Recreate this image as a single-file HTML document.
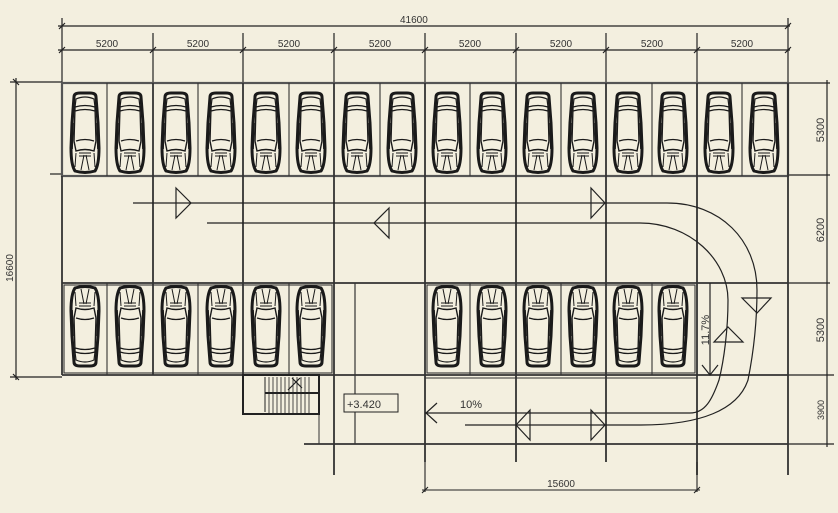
<!DOCTYPE html>
<html><head><meta charset="utf-8"><style>
html,body{margin:0;padding:0;background:#f3efdf;}
svg{display:block;}
text{font-family:"Liberation Sans",sans-serif;fill:#333;}
</style></head><body>
<svg width="838" height="513" viewBox="0 0 838 513" xmlns="http://www.w3.org/2000/svg">
<defs>
<g id="car" fill="none" stroke="#1a1a1a">
 <path d="M4,4 Q4,0 10,0 H20 Q26,0 26,4 L28,30 L29,55 Q29,72 25,78 Q15,81 5,78 Q1,72 1,55 L2,30 Z" stroke-width="3"/>
 <path d="M6,6 Q15,2 24,6 L25,14 Q15,11 5,14 Z" stroke-width="1.2"/>
 <path d="M5,14 L4,48 M25,14 L26,48" stroke-width="1.4"/>
 <path d="M5,18 Q15,15 25,18 M6,48 Q15,45 24,48" stroke-width="1.2"/>
 <path d="M4,48 L6,58 Q15,55 24,58 L26,48" stroke-width="1.4"/>
 <path d="M0,50 L3,50 M27,50 L30,50" stroke-width="1.8"/>
 <path d="M6,60 L5,74 M24,60 L25,74 M9,60 H21 M9,63 H21 M11,77 L14,62 M19,77 L16,62" stroke-width="1"/>
 <path d="M3,30 L2,56 M27,30 L28,56" stroke-width="1.8"/>
</g>
</defs>

<!-- top dimensions -->
<g stroke="#222" stroke-width="1.2" fill="none">
 <line x1="58" y1="26" x2="790" y2="26"/>
 <line x1="58" y1="50" x2="790" y2="50"/>
 <line x1="62" y1="18" x2="62" y2="83"/>
 <line x1="153" y1="33" x2="153" y2="83"/>
 <line x1="243" y1="33" x2="243" y2="83"/>
 <line x1="334" y1="33" x2="334" y2="83"/>
 <line x1="425" y1="33" x2="425" y2="83"/>
 <line x1="516" y1="33" x2="516" y2="83"/>
 <line x1="606" y1="33" x2="606" y2="83"/>
 <line x1="697" y1="33" x2="697" y2="83"/>
 <line x1="788" y1="18" x2="788" y2="83"/>
 <path d="M59,29 L65,23 M59,53 L65,47 M150,53 L156,47 M240,53 L246,47 M331,53 L337,47 M422,53 L428,47 M513,53 L519,47 M603,53 L609,47 M694,53 L700,47 M785,53 L791,47 M785,29 L791,23"/>
</g>
<text x="400" y="23" font-size="10" fill="#555">41600</text>
<g font-size="10" text-anchor="middle" fill="#555">
 <text x="107" y="47" fill="#222">5200</text><text x="198" y="47">5200</text><text x="289" y="47">5200</text><text x="380" y="47">5200</text>
 <text x="470" y="47">5200</text><text x="561" y="47">5200</text><text x="652" y="47">5200</text><text x="742" y="47">5200</text>
</g>

<!-- left dimension -->
<g stroke="#222" stroke-width="1.2" fill="none">
 <line x1="10" y1="82" x2="62" y2="82"/>
 <line x1="50" y1="174" x2="62" y2="174"/>
 <line x1="10" y1="377" x2="62" y2="377"/>
 <line x1="16" y1="78" x2="16" y2="380"/>
 <path d="M13,79 L19,85 M13,374 L19,380"/>
</g>
<text transform="translate(13,268) rotate(-90)" font-size="10" fill="#555" text-anchor="middle">16600</text>

<!-- right dimension -->
<g stroke="#222" stroke-width="1.2" fill="none">
 <line x1="788" y1="83" x2="830" y2="83"/>
 <line x1="788" y1="175" x2="830" y2="175"/>
 <line x1="788" y1="283" x2="830" y2="283"/>
 <line x1="788" y1="375" x2="834" y2="375"/>
 <line x1="788" y1="444" x2="834" y2="444"/>
 <line x1="827" y1="80" x2="827" y2="447"/>
</g>
<g font-size="11" fill="#555" text-anchor="middle">
 <text transform="translate(824,130) rotate(-90)">5300</text>
 <text transform="translate(824,230) rotate(-90)">6200</text>
 <text transform="translate(824,330) rotate(-90)">5300</text>
 <text transform="translate(824,410) rotate(-90)" font-size="9">3900</text>
</g>

<!-- main grid -->
<g stroke="#333" stroke-width="1.8" fill="none">
 <rect x="62" y="83" width="726" height="93" stroke="#555" stroke-width="2.2"/>
 <line x1="62" y1="176" x2="62" y2="375"/>
 <line x1="153" y1="83" x2="153" y2="375"/>
 <line x1="243" y1="83" x2="243" y2="414"/>
 <line x1="334" y1="83" x2="334" y2="475"/>
 <line x1="425" y1="83" x2="425" y2="462"/>
 <line x1="516" y1="83" x2="516" y2="462"/>
 <line x1="606" y1="83" x2="606" y2="462"/>
 <line x1="697" y1="83" x2="697" y2="475"/>
 <line x1="788" y1="83" x2="788" y2="475"/>
 <line x1="62" y1="283" x2="788" y2="283"/>
 <line x1="62" y1="375" x2="788" y2="375"/>
 <line x1="304" y1="444" x2="788" y2="444"/>
 <line x1="425" y1="378" x2="697" y2="378" stroke-width="1"/>
 <line x1="355" y1="283" x2="355" y2="444" stroke-width="1.2"/>
 <line x1="319" y1="376" x2="319" y2="444" stroke-width="1"/>
</g>
<!-- stall dividers -->
<g stroke="#333" stroke-width="1.1">
 <line x1="107" y1="83" x2="107" y2="176"/><line x1="198" y1="83" x2="198" y2="176"/><line x1="289" y1="83" x2="289" y2="176"/><line x1="380" y1="83" x2="380" y2="176"/>
 <line x1="470" y1="83" x2="470" y2="176"/><line x1="561" y1="83" x2="561" y2="176"/><line x1="652" y1="83" x2="652" y2="176"/><line x1="742" y1="83" x2="742" y2="176"/>
 <line x1="107" y1="283" x2="107" y2="375"/><line x1="198" y1="283" x2="198" y2="375"/><line x1="289" y1="283" x2="289" y2="375"/>
 <line x1="470" y1="283" x2="470" y2="375"/><line x1="561" y1="283" x2="561" y2="375"/><line x1="652" y1="283" x2="652" y2="375"/>
 <rect x="64" y="285" width="268" height="88" fill="none"/>
 <rect x="427" y="285" width="268" height="88" fill="none"/>
</g>

<!-- top cars -->
<g>
 <use href="#car" x="70" y="93"/><use href="#car" x="115" y="93"/>
 <use href="#car" x="161" y="93"/><use href="#car" x="206" y="93"/>
 <use href="#car" x="251" y="93"/><use href="#car" x="296" y="93"/>
 <use href="#car" x="342" y="93"/><use href="#car" x="387" y="93"/>
 <use href="#car" x="432" y="93"/><use href="#car" x="477" y="93"/>
 <use href="#car" x="523" y="93"/><use href="#car" x="568" y="93"/>
 <use href="#car" x="613" y="93"/><use href="#car" x="658" y="93"/>
 <use href="#car" x="704" y="93"/><use href="#car" x="749" y="93"/>
</g>
<!-- bottom cars (flipped) -->
<g transform="translate(0,658) scale(1,-1)">
 <use href="#car" x="70" y="292"/><use href="#car" x="115" y="292"/>
 <use href="#car" x="161" y="292"/><use href="#car" x="206" y="292"/>
 <use href="#car" x="251" y="292"/><use href="#car" x="296" y="292"/>
 <use href="#car" x="432" y="292"/><use href="#car" x="477" y="292"/>
 <use href="#car" x="523" y="292"/><use href="#car" x="568" y="292"/>
 <use href="#car" x="613" y="292"/><use href="#car" x="658" y="292"/>
</g>

<!-- driving lines -->
<g stroke="#222" stroke-width="1.2" fill="none">
 <path d="M133,203 H667 C720,203 757,240 757,290 C757,330 752,360 748,380 C738,410 700,425 641,425 H465"/>
 <path d="M207,223 H640 C690,223 728,260 728,300 C728,330 724,360 719,380 C712,400 705,413 690,413 H425"/>
 <path d="M176,188 L191,203 L176,218 Z"/>
 <path d="M389,208 L374,223 L389,238 Z"/>
 <path d="M591,188 L605,203 L591,218 Z"/>
 <path d="M530,410 L516,425 L530,440 Z"/>
 <path d="M591,410 L605,425 L591,440 Z"/>
 <path d="M437,403 L426,413 L437,423"/>
 <path d="M742,298 L771,298 L757,313 Z"/>
 <path d="M714,342 L743,342 L728,327 Z"/>
 <line x1="710" y1="283" x2="710" y2="375"/>
 <path d="M702,365 L710,375 L718,365"/>
</g>
<text x="460" y="408" font-size="11" fill="#222">10%</text>
<text transform="translate(709,330) rotate(-90)" font-size="11" fill="#222" text-anchor="middle">11.7%</text>

<!-- stairs -->
<g stroke="#222" fill="none">
 <rect x="243" y="375" width="76" height="39" stroke-width="2"/>
 <line x1="265" y1="377" x2="265" y2="412" stroke-width="1"/>
 <line x1="265" y1="393" x2="318" y2="393" stroke-width="2"/>
 <path d="M269,377V413 M273,377V413 M277,377V413 M281,377V413 M285,377V413 M289,377V413 M293,377V413 M297,377V413 M301,377V413 M305,377V413 M309,377V413" stroke-width="0.8"/>
 <path d="M288,390 L300,378 M292,378 L302,388" stroke-width="1.2"/>
</g>
<rect x="344" y="394" width="54" height="18" fill="#f3efdf" stroke="#222" stroke-width="1"/>
<text x="347" y="408" font-size="11" fill="#444">+3.420</text>

<!-- bottom dimension -->
<g stroke="#222" stroke-width="1.1" fill="none">
 <line x1="425" y1="462" x2="425" y2="492"/>
 <line x1="697" y1="462" x2="697" y2="492"/>
 <line x1="422" y1="490" x2="700" y2="490"/>
 <path d="M422,493 L428,487 M694,493 L700,487"/>
</g>
<text x="561" y="487" font-size="10" fill="#555" text-anchor="middle">15600</text>
</svg>
</body></html>
